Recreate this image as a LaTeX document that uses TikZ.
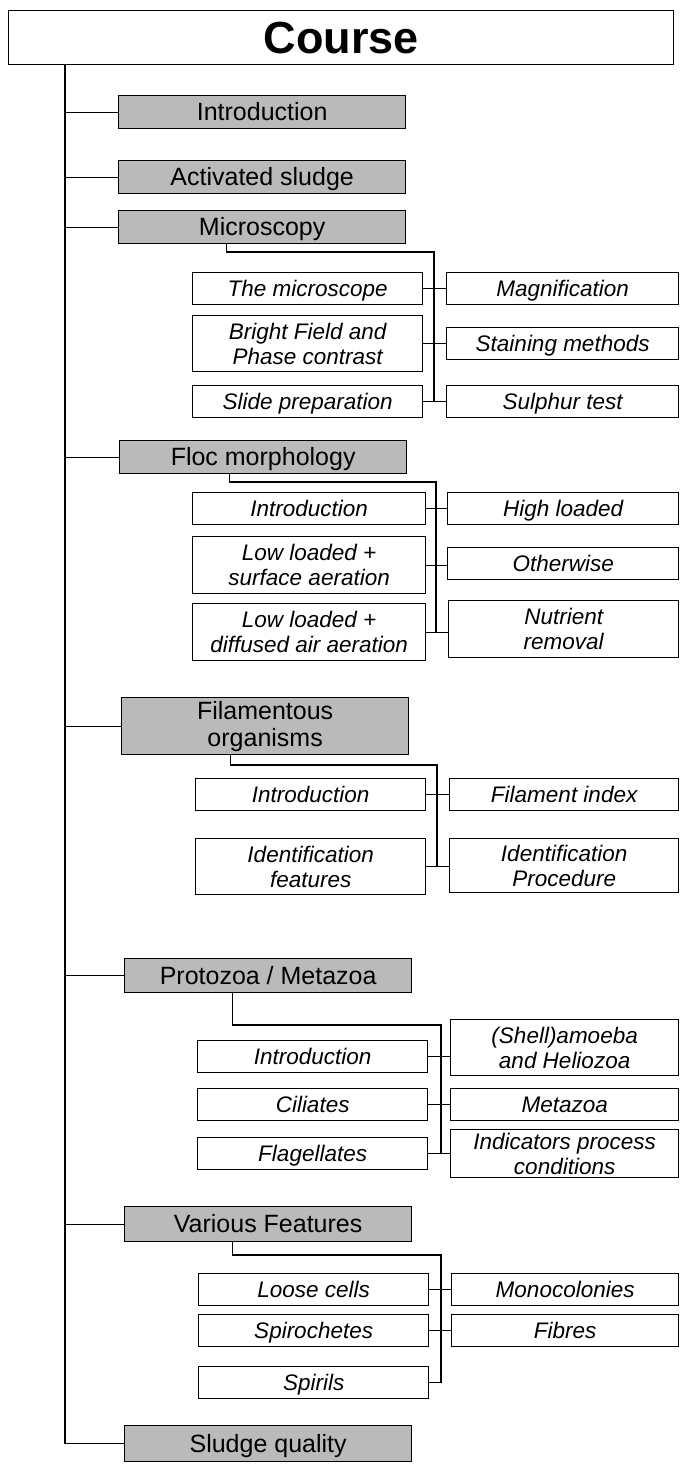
\documentclass[tikz,border=0pt]{standalone}
\usepackage{fontspec}
\setmainfont{Liberation Sans}
\usetikzlibrary{positioning}
\definecolor{BoxGray}{HTML}{BABABA}

\begin{document}
\begin{tikzpicture}[x=1pt, y=-1pt, line width=1.3pt,
    course/.style={draw, fill=white, anchor=north west, minimum width=665pt, minimum height=54pt,
        text height=32pt, text depth=1pt, font=\fontsize{45}{48}\selectfont\bfseries},
    mainbox/.style={draw, fill=BoxGray, anchor=north west, minimum width=287pt, minimum height=33pt,
        inner sep=0pt, align=center, text height=18pt, text depth=1pt,
        font=\fontsize{25}{27}\selectfont},
    subbox/.style={draw, fill=white, anchor=north west, minimum width=230pt, minimum height=32pt,
        inner sep=0pt, align=center, text height=16pt, text depth=1pt,
        font=\fontsize{22.5}{25}\selectfont\itshape},
    twolines/.style={text height={}, text depth={}}]
    \useasboundingbox (0,0) rectangle (684,1472);

    % Title
    \node[course] (course) at (8,10) {Course};

    % Main chapters
    \node[mainbox] (intro)   at (118,95)  {Introduction};
    \node[mainbox] (actsl)   at (118,160) {Activated sludge};
    \node[mainbox] (micro)   at (118,210) {Microscopy};
    \node[mainbox] (floc)    at (119,440) {Floc morphology};
    \node[mainbox, twolines, minimum height=57pt] (filam) at (121,697) {Filamentous\\organisms};
    \node[mainbox, minimum height=34pt] (proto) at (124,958) {Protozoa / Metazoa};
    \node[mainbox, minimum height=35pt] (various) at (124,1206) {Various Features};
    \node[mainbox, minimum height=36pt] (sludge)  at (124,1425) {Sludge quality};

    % Trunk from the title
    \coordinate (trunk) at (65,64);
    \draw (trunk) -- (trunk |- sludge.west);
    \foreach \m in {intro,actsl,micro,floc,filam,proto,various,sludge}
        \draw (trunk |- \m.west) -- (\m.west);

    % Microscopy
    \node[subbox] (mscope) at (192,272) {The microscope};
    \node[subbox, twolines, minimum height=56pt] (bright) at (192,315) {Bright Field and\\Phase contrast};
    \node[subbox] (slide)  at (192,385) {Slide preparation};
    \node[subbox, minimum width=232pt] (magn)  at (446,272) {Magnification};
    \node[subbox, minimum width=232pt] (stain) at (446,327) {Staining methods};
    \node[subbox, minimum width=232pt] (sulph) at (446,385) {Sulphur test};
    \coordinate (micbus) at (434,252);
    \draw ([xshift=-36pt]micro.south) |- (micbus) -- (micbus |- slide.east);
    \draw (mscope.east) -- (mscope.east -| magn.west);
    \draw (bright.east) -- (bright.east -| stain.west);
    \draw (slide.east)  -- (slide.east -| sulph.west);

    % Floc morphology
    \node[subbox, minimum width=233pt] (flintro) at (192,492) {Introduction};
    \node[subbox, twolines, minimum width=233pt, minimum height=57pt] (lowsurf) at (192,536) {Low loaded +\\surface aeration};
    \node[subbox, twolines, minimum width=233pt, minimum height=57pt] (lowdiff) at (192,603) {Low loaded +\\diffused air aeration};
    \node[subbox, minimum width=231pt] (high)  at (447,492) {High loaded};
    \node[subbox, minimum width=231pt] (other) at (447,547) {Otherwise};
    \node[subbox, twolines, minimum width=230pt, minimum height=57pt] (nutr) at (448,600) {Nutrient\\removal};
    \coordinate (flocbus) at (436,482);
    \draw ([xshift=-34pt]floc.south) |- (flocbus) -- (flocbus |- lowdiff.east);
    \draw (flintro.east) -- (flintro.east -| high.west);
    \draw (lowsurf.east) -- (lowsurf.east -| other.west);
    \draw (lowdiff.east) -- (lowdiff.east -| nutr.west);

    % Filamentous organisms
    \node[subbox] (fiintro) at (195,778) {Introduction};
    \node[subbox, twolines, minimum height=56pt] (idfeat) at (195,838) {Identification\\features};
    \node[subbox, minimum width=229pt] (fidx) at (449,778) {Filament index};
    \node[subbox, twolines, minimum width=229pt, minimum height=54pt] (idproc) at (449,838) {Identification\\Procedure};
    \coordinate (filbus) at (437,765);
    \draw ([xshift=-35pt]filam.south) |- (filbus) -- (filbus |- idfeat.east);
    \draw (fiintro.east) -- (fiintro.east -| fidx.west);
    \draw (idfeat.east)  -- (idfeat.east -| idproc.west);

    % Protozoa / Metazoa
    \node[subbox] (printro) at (197,1040) {Introduction};
    \node[subbox] (cil)     at (197,1088) {Ciliates};
    \node[subbox] (flag)    at (197,1137) {Flagellates};
    \node[subbox, twolines, minimum width=228pt, minimum height=56pt] (shell) at (450,1019) {(Shell)amoeba\\and Heliozoa};
    \node[subbox, minimum width=228pt] (meta)  at (450,1088) {Metazoa};
    \node[subbox, twolines, minimum width=228pt, minimum height=48pt] (indic) at (450,1129) {Indicators process\\conditions};
    \coordinate (probus) at (441,1025);
    \draw ([xshift=-36pt]proto.south) |- (probus) -- (probus |- flag.east);
    \draw (printro.east) -- (printro.east -| shell.west);
    \draw (cil.east)     -- (cil.east -| meta.west);
    \draw (flag.east)    -- (flag.east -| indic.west);

    % Various Features
    \node[subbox] (loose) at (198,1273) {Loose cells};
    \node[subbox] (spiro) at (198,1314) {Spirochetes};
    \node[subbox] (spir)  at (198,1366) {Spirils};
    \node[subbox, minimum width=227pt] (mono) at (451,1273) {Monocolonies};
    \node[subbox, minimum width=227pt] (fibr) at (451,1314) {Fibres};
    \coordinate (varbus) at (441,1255);
    \draw ([xshift=-36pt]various.south) |- (varbus) -- (varbus |- spir.east);
    \draw (loose.east) -- (loose.east -| mono.west);
    \draw (spiro.east) -- (spiro.east -| fibr.west);
    \draw (spir.east)  -- (spir.east -| varbus);

\end{tikzpicture}
\end{document}
